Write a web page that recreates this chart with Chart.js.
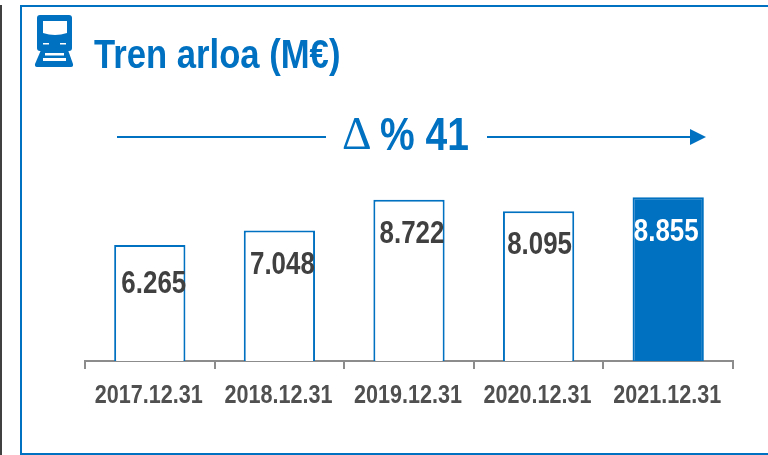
<!DOCTYPE html>
<html>
<head>
<meta charset="utf-8">
<style>
html, body { margin: 0; padding: 0; background: #fff; overflow: hidden; }
#wrap { position: relative; width: 768px; height: 455px; }
</style>
<script src="https://cdn.jsdelivr.net/npm/chart.js@4"></script>
</head>
<body>
<div id="wrap"><canvas id="trenChart" width="768" height="455"></canvas></div>
<script>
var categories = ['2017.12.31', '2018.12.31', '2019.12.31', '2020.12.31', '2021.12.31'];
var values = [6265, 7048, 8722, 8095, 8855];
var valueLabels = ['6.265', '7.048', '8.722', '8.095', '8.855'];
var titleText = 'Tren arloa (M€)';
var deltaSign = 'Δ';
var deltaText = '% 41';

var BLUE = '#0070c0';
var GREY = '#404040';
var FONT = '"Liberation Sans"';

// hand nudges of the value labels relative to their bars
var labelNudge = [
	{ x: 4, y: 48 },
	{ x: 3, y: 43 },
	{ x: 3, y: 43 },
	{ x: 1, y: 43 },
	{ x: -2, y: 44 }
];

// text squeezed sideways, the original uses a narrow bold face
function narrowText(ctx, text, x, y, font, color, sx, align) {
	ctx.save();
	ctx.font = font;
	ctx.fillStyle = color;
	ctx.textAlign = align || 'left';
	ctx.textBaseline = 'alphabetic';
	ctx.translate(x, y);
	ctx.scale(sx, 1);
	ctx.fillText(text, 0, 0);
	ctx.restore();
}

function drawTrain(ctx) {
	ctx.save();
	ctx.fillStyle = BLUE;
	// body
	ctx.beginPath();
	ctx.roundRect(37, 15, 35, 36, 3);
	ctx.fill();
	// rails
	ctx.beginPath();
	ctx.moveTo(41, 50);
	ctx.lineTo(68, 50);
	ctx.lineTo(73, 64);
	ctx.quadraticCurveTo(73.5, 67, 71, 67);
	ctx.lineTo(37, 67);
	ctx.quadraticCurveTo(34.5, 67, 35, 64);
	ctx.closePath();
	ctx.fill();
	ctx.fillStyle = '#fff';
	// windscreen
	ctx.beginPath();
	ctx.moveTo(43, 21);
	ctx.lineTo(67, 21);
	ctx.lineTo(67, 33);
	ctx.quadraticCurveTo(55, 37, 43, 33);
	ctx.closePath();
	ctx.fill();
	// lights
	ctx.fillRect(43, 43, 6, 1.5);
	ctx.fillRect(60, 43, 6, 1.5);
	// sleepers
	ctx.fillRect(45, 53, 19, 2.5);
	ctx.fillRect(43, 58, 23, 3);
	ctx.restore();
}

var framePlugin = {
	id: 'frame',
	beforeDraw: function(chart) {
		var ctx = chart.ctx;
		ctx.save();
		ctx.fillStyle = GREY;
		ctx.fillRect(0, 5, 2, 450);
		ctx.fillStyle = BLUE;
		ctx.fillRect(20, 5, 748, 2);
		ctx.fillRect(20, 5, 2, 450);
		ctx.fillRect(20, 453, 748, 2);
		ctx.restore();

		drawTrain(ctx);
		narrowText(ctx, titleText, 94, 68, 'bold 41px ' + FONT, BLUE, 0.845);

		// growth arrow
		ctx.save();
		ctx.strokeStyle = BLUE;
		ctx.lineWidth = 2;
		ctx.beginPath();
		ctx.moveTo(117, 137);
		ctx.lineTo(326, 137);
		ctx.moveTo(487, 137);
		ctx.lineTo(692, 137);
		ctx.stroke();
		ctx.fillStyle = BLUE;
		ctx.beginPath();
		ctx.moveTo(690, 129);
		ctx.lineTo(706, 137);
		ctx.lineTo(690, 145);
		ctx.closePath();
		ctx.fill();
		ctx.restore();
		narrowText(ctx, deltaSign, 342, 149, '46px "Liberation Serif"', BLUE, 1);
		narrowText(ctx, deltaText, 380, 150, 'bold 47px ' + FONT, BLUE, 0.83);
	},
	afterDatasetsDraw: function(chart) {
		var ctx = chart.ctx;
		var bars = chart.getDatasetMeta(0).data;
		var xAxis = chart.scales.x;
		for (var i = 0; i < bars.length; i++) {
			var color = i === bars.length - 1 ? '#fff' : GREY;
			narrowText(ctx, valueLabels[i], bars[i].x + labelNudge[i].x, bars[i].y + labelNudge[i].y, 'bold 32px ' + FONT, color, 0.81, 'center');
			// axis labels, hung on the axis' own tick positions
			narrowText(ctx, categories[i], xAxis.getPixelForTick(i) - 1, 403, 'bold 26px ' + FONT, '#505050', 0.83, 'center');
		}
	}
};

var chartArea = document.getElementById('trenChart').getContext('2d');
var myChart = new Chart(chartArea, {
	type: 'bar',
	data: {
		labels: categories,
		datasets: [{
			data: values,
			backgroundColor: ['#fff', '#fff', '#fff', '#fff', BLUE],
			borderColor: BLUE,
			borderWidth: 2,
			barPercentage: 0.55,
			categoryPercentage: 1
		}]
	},
	options: {
		responsive: false,
		animation: false,
		layout: {
			padding: { left: 85, right: 35, top: 176, bottom: 0 }
		},
		plugins: {
			legend: { display: false },
			tooltip: { enabled: false }
		},
		scales: {
			x: {
				afterFit: function(scale) {
					scale.height = 94;
				},
				grid: {
					offset: true,
					drawOnChartArea: false,
					color: '#8c8c8c',
					lineWidth: 2,
					tickLength: 8
				},
				border: { color: '#8c8c8c', width: 2 },
				ticks: {
					display: false,
					autoSkip: false,
					maxRotation: 0
				}
			},
			y: {
				display: false,
				min: 0,
				max: 10000
			}
		}
	},
	plugins: [framePlugin]
});
</script>
</body>
</html>
